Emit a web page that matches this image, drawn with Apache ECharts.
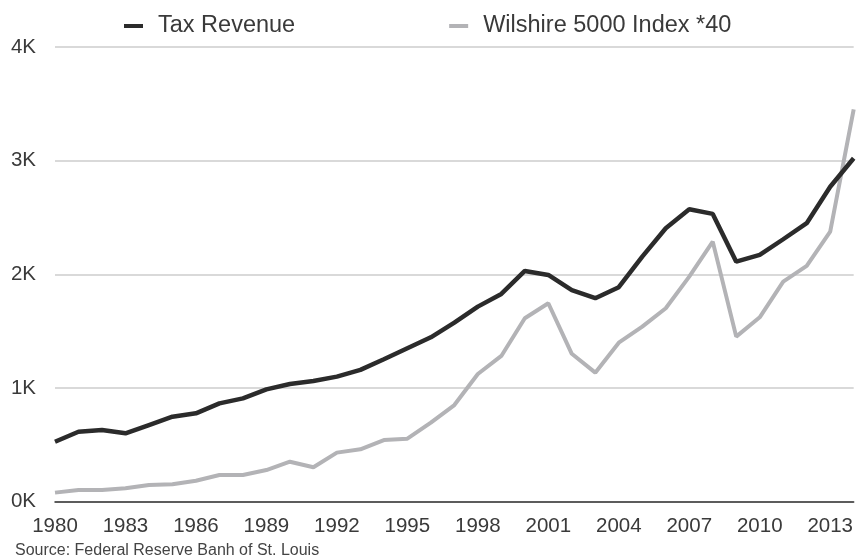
<!DOCTYPE html>
<html>
<head>
<meta charset="utf-8">
<script src="https://cdn.jsdelivr.net/npm/echarts@6/dist/echarts.min.js"></script>
<style>html,body{margin:0;padding:0;background:#fff;}#c{width:856px;height:557px;}</style>
</head>
<body>
<div id="c"></div>
<script>
const years = [1980,1981,1982,1983,1984,1985,1986,1987,1988,1989,1990,1991,1992,1993,1994,1995,1996,1997,1998,1999,2000,2001,2002,2003,2004,2005,2006,2007,2008,2009,2010,2011,2012,2013,2014];
const taxRevenue = [526,614,629,600,673,746,776,864,908,987,1034,1060,1099,1158,1252,1349,1445,1574,1715,1827,2029,1994,1860,1789,1886,2155,2405,2572,2531,2111,2170,2308,2449,2770,3021];
const wilshire = [78,101,101,116,145,151,183,233,233,277,350,301,430,459,541,553,694,849,1122,1281,1613,1745,1300,1134,1398,1539,1701,1979,2287,1451,1621,1935,2073,2375,3452];
const yTicks = ['0K','1K','2K','3K','4K'];
const seriesNames = ['Tax Revenue','Wilshire 5000 Index *40'];
const sourceText = 'Source: Federal Reserve Banh of St. Louis';

const font = 'Liberation Sans, Helvetica, Arial, sans-serif';
const chart = echarts.init(document.getElementById('c'));
chart.setOption({
  animation: false,
  backgroundColor: '#fff',
  textStyle: {fontFamily: font},
  legend: {
    left: 124, top: 14, padding: 0,
    icon: 'rect', itemWidth: 19, itemHeight: 4, itemGap: 154,
    textStyle: {fontFamily: font, fontSize: 23.5, color: '#3a3a3a', padding: [0,0,0,10]},
    data: seriesNames
  },
  graphic: [{
    type: 'text', left: 15, top: 543,
    style: {text: sourceText, font: '16px ' + font, fill: '#444'}
  }],
  grid: {left: 55, right: 2, top: 47, bottom: 55.5},
  xAxis: {
    type: 'category', data: years, boundaryGap: false,
    axisLine: {lineStyle: {color: '#333', width: 1.5}},
    axisTick: {show: false},
    axisLabel: {interval: 2, fontSize: 20.5, color: '#3a3a3a', margin: 14, fontFamily: font},
    splitLine: {show: false}
  },
  yAxis: {
    type: 'value', min: 0, max: 4000, interval: 1000,
    axisLine: {show: false}, axisTick: {show: false},
    axisLabel: {fontSize: 20.5, color: '#3a3a3a', margin: 19, fontFamily: font,
      formatter: v => yTicks[Math.round(v/1000)]},
    splitLine: {lineStyle: {color: '#cccccc', width: 1.5}}
  },
  series: [
    {name: seriesNames[0], type: 'line', data: taxRevenue, showSymbol: false, symbol: 'none',
      lineStyle: {color: '#2b2b2b', width: 4.5}, itemStyle: {color: '#2b2b2b'}, z: 3},
    {name: seriesNames[1], type: 'line', data: wilshire, showSymbol: false, symbol: 'none',
      lineStyle: {color: '#b3b3b6', width: 4}, itemStyle: {color: '#b3b3b6'}, z: 2}
  ]
});
</script>
</body>
</html>
